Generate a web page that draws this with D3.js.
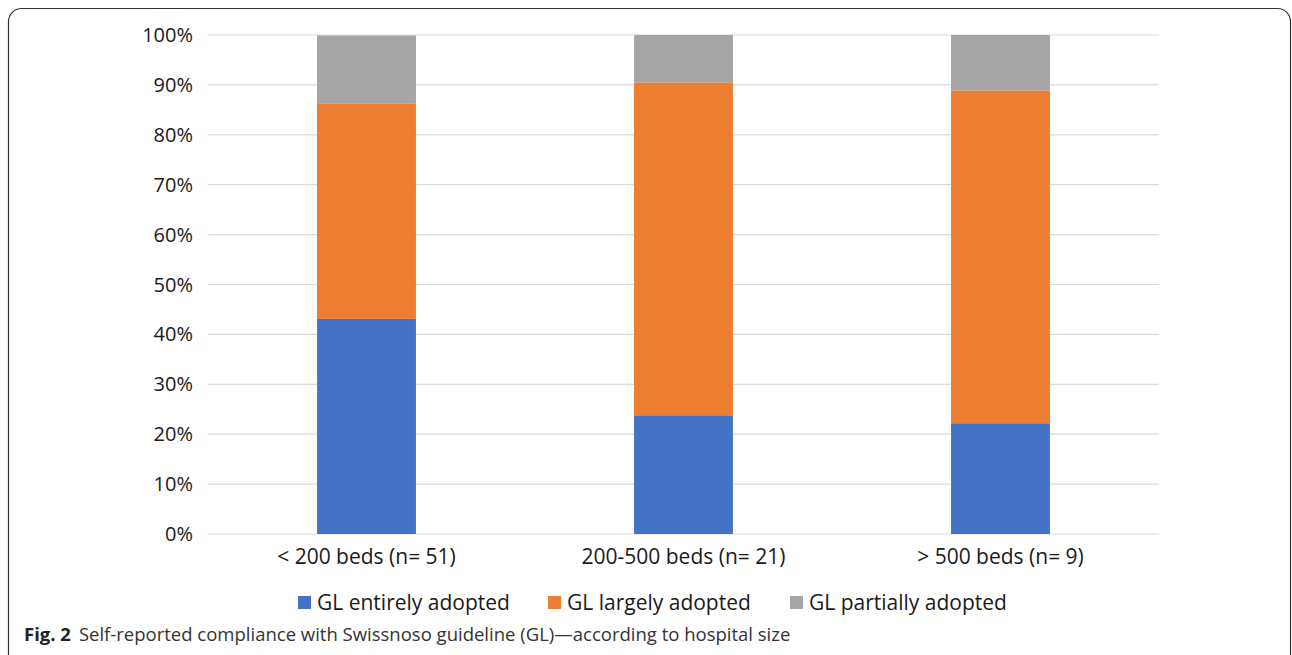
<!DOCTYPE html>
<html><head><meta charset="utf-8">
<script src="https://cdn.jsdelivr.net/npm/d3@7"></script>
<style>body{margin:0;background:#fff;}svg{display:block;}</style>
</head><body>
<svg id="c" width="1292" height="655"></svg>
<script>
const categories = ["< 200 beds (n= 51)", "200-500 beds (n= 21)", "> 500 beds (n= 9)"];
const seriesNames = ["GL entirely adopted", "GL largely adopted", "GL partially adopted"];
const entirely = [43.1, 23.8, 22.2];
const largely = [43.1, 66.7, 66.7];
const partially = [13.7, 9.5, 11.1];
const yTicks = [0,10,20,30,40,50,60,70,80,90,100];
const colors = ["#4472C4", "#ED7D31", "#A5A5A5"];
const caption = "Self-reported compliance with Swissnoso guideline (GL)\u2014according to hospital size";

(function(){
const svg = d3.select("#c");
svg.append("rect").attr("x",8.5).attr("y",8.5).attr("width",1282).attr("height",660)
  .attr("rx",13).attr("fill","none").attr("stroke","#333").attr("stroke-width",1.2);

const pLeft=208, pRight=1159, pTop=35, pBottom=534;
const x = d3.scaleBand().domain(categories).range([pLeft,pRight]).paddingInner(0.688).paddingOuter(0.344);
const y = d3.scaleLinear().domain([0,100]).range([pBottom,pTop]);

const font = "'Open Sans', 'Liberation Sans', sans-serif";
const g = svg.append("g");
g.selectAll("line.grid").data(yTicks).join("line")
  .attr("x1",pLeft).attr("x2",pRight).attr("y1",d=>y(d)).attr("y2",d=>y(d))
  .attr("stroke","#d9d9d9").attr("stroke-width",1.2);
g.selectAll("text.yt").data(yTicks).join("text")
  .attr("x",193).attr("y",d=>y(d)).attr("dy","0.35em").attr("text-anchor","end")
  .attr("font-family",font).attr("font-size",20).attr("fill","#1a1a1a").text(d=>d+"%");

const data = categories.map((c,i)=>({cat:c, v:[entirely[i],largely[i],partially[i]]}));
const stack = d3.stack().keys([0,1,2]).value((d,k)=>d.v[k]);
const layers = stack(data);
layers.forEach((layer,k)=>{
  g.selectAll(null).data(layer).join("rect")
    .attr("x",d=>x(d.data.cat)).attr("width",x.bandwidth())
    .attr("y",d=>y(Math.min(d[1],100))).attr("height",d=>y(d[0])-y(Math.min(d[1],100)))
    .attr("fill",colors[k]);
});

g.selectAll("text.xl").data(categories).join("text")
  .attr("x",d=>x(d)+x.bandwidth()/2).attr("y",557).attr("dy","0.35em").attr("text-anchor","middle")
  .attr("font-family",font).attr("font-size",21).attr("fill","#1a1a1a").text(d=>d);

const legX = [298, 548, 790];
seriesNames.forEach((s,i)=>{
  svg.append("rect").attr("x",legX[i]).attr("y",596).attr("width",13).attr("height",13).attr("fill",colors[i]);
  svg.append("text").attr("x",legX[i]+19).attr("y",602.5).attr("dy","0.35em")
    .attr("font-family",font).attr("font-size",21).attr("fill","#1a1a1a").text(s);
});

const cap = svg.append("text").attr("x",24).attr("y",641).attr("font-family","'Open Sans','Noto Sans',sans-serif").attr("font-size",18.5).attr("fill","#333");
cap.append("tspan").attr("font-weight","bold").attr("fill","#222").text("Fig. 2");
cap.append("tspan").attr("dx",8).text(caption);
})();
</script>
</body></html>
